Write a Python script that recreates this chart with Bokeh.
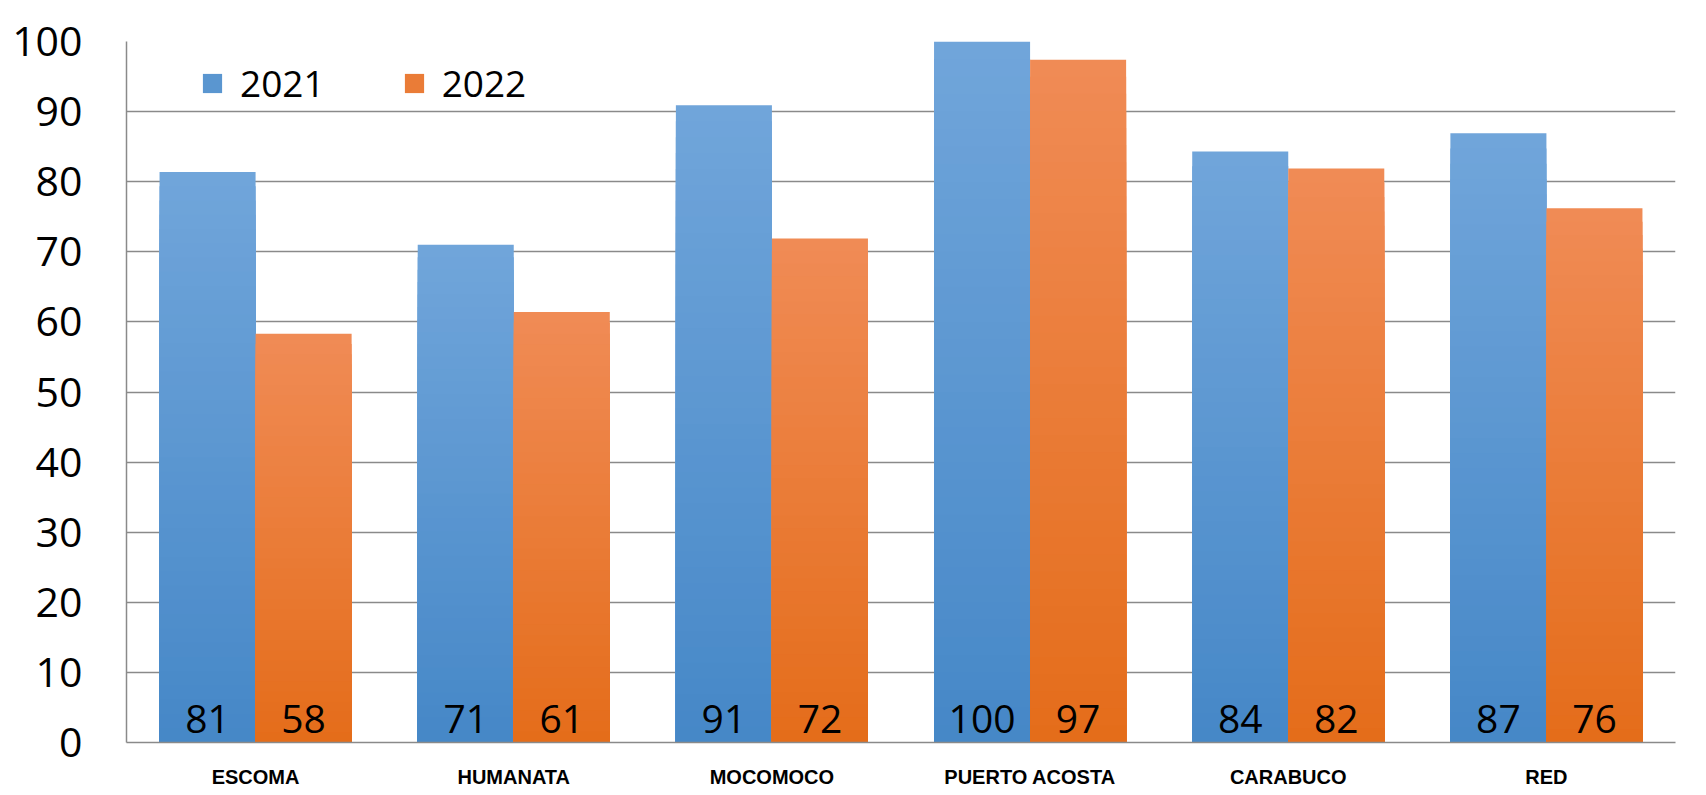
from bokeh.plotting import figure
from bokeh.models import ColumnDataSource, Range1d, Legend, LegendItem, FixedTicker
from bokeh.transform import dodge
from bokeh.core.properties import value
from bokeh.embed import file_html
from bokeh.resources import INLINE

# ---------------- data ----------------
categories = ["ESCOMA", "HUMANATA", "MOCOMOCO", "PUERTO ACOSTA", "CARABUCO", "RED"]
series_names = ["2021", "2022"]
values_2021 = [81.4, 71.0, 90.9, 100.0, 84.3, 86.9]
values_2022 = [58.3, 61.4, 71.9, 97.4, 81.9, 76.2]
y_ticks = [0, 10, 20, 30, 40, 50, 60, 70, 80, 90, 100]

# ---------------- style ----------------
BAR_W = 0.372
N_BANDS = 40
LABEL_BASE = 3.3
GRID = "#8a8a8a"
BLUE_TOP, BLUE_BOT = "#70a5da", "#4587c7"
ORANGE_TOP, ORANGE_BOT = "#f08b55", "#e46c19"
NUM_FONT = "Open Sans"
CAT_FONT = "Liberation Sans"


def _rgb(h):
    h = h.lstrip("#")
    return tuple(int(h[i:i + 2], 16) for i in (0, 2, 4))


def _mix(c0, c1, t):
    a, b = _rgb(c0), _rgb(c1)
    return "#%02x%02x%02x" % tuple(round(a[i] + (b[i] - a[i]) * t) for i in range(3))


p = figure(
    x_range=categories, y_range=Range1d(0, 100),
    width=1700, height=790,
    output_backend="svg", toolbar_location=None,
    min_border_left=126, min_border_right=25, min_border_top=41, min_border_bottom=46,
    background_fill_color="white", border_fill_color="white",
    outline_line_color=None,
)

legend_items = []
for name, vals, off, c_top, c_bot in [
    (series_names[0], values_2021, -BAR_W / 2, BLUE_TOP, BLUE_BOT),
    (series_names[1], values_2022, BAR_W / 2, ORANGE_TOP, ORANGE_BOT),
]:
    xs, tops, cols = [], [], []
    for k in range(N_BANDS, 0, -1):
        f = k / N_BANDS
        col = _mix(c_bot, c_top, f)
        for cat, v in zip(categories, vals):
            xs.append(cat)
            tops.append(v * f)
            cols.append(col)
    src = ColumnDataSource(dict(cat=xs, top=tops, color=cols))
    r = p.vbar(x=dodge("cat", off, range=p.x_range), top="top", bottom=0, width=BAR_W,
               fill_color="color", line_color=None, source=src)
    legend_items.append(LegendItem(label=name, renderers=[r], index=(N_BANDS // 2) * len(categories)))

    lsrc = ColumnDataSource(dict(cat=categories, y=[LABEL_BASE] * len(vals),
                                 txt=[str(round(v)) for v in vals]))
    p.text(x=dodge("cat", off, range=p.x_range), y="y", text="txt", source=lsrc,
           text_align="center", text_baseline="alphabetic",
           text_font=value(NUM_FONT), text_font_size="39px", text_color="black")

legend = Legend(
    items=legend_items, orientation="horizontal", location=(74, 634),
    glyph_width=24, glyph_height=24, label_standoff=16, spacing=77,
    padding=0, margin=0, border_line_color=None, background_fill_alpha=0,
    label_text_font=NUM_FONT, label_text_font_size="37px", label_text_color="black",
)
p.add_layout(legend)

# y axis
p.yaxis.ticker = FixedTicker(ticks=y_ticks)
p.yaxis.major_label_text_font = NUM_FONT
p.yaxis.major_label_text_font_size = "41px"
p.yaxis.major_label_text_color = "black"
p.yaxis.major_label_standoff = 44
p.yaxis.major_tick_in = 0
p.yaxis.major_tick_out = 0
p.yaxis.minor_tick_line_color = None
p.yaxis.axis_line_color = GRID
p.yaxis.axis_line_width = 1.5

# x axis
p.xaxis.major_label_text_font = CAT_FONT
p.xaxis.major_label_text_font_style = "bold"
p.xaxis.major_label_text_font_size = "20px"
p.xaxis.major_label_text_color = "black"
p.xaxis.major_label_standoff = 23
p.xaxis.major_tick_in = 0
p.xaxis.major_tick_out = 0
p.xaxis.axis_line_color = GRID
p.xaxis.axis_line_width = 1.5

p.xgrid.grid_line_color = None
p.ygrid.grid_line_color = GRID
p.ygrid.grid_line_width = 1.5

open("out.html", "w").write(file_html(p, INLINE))
